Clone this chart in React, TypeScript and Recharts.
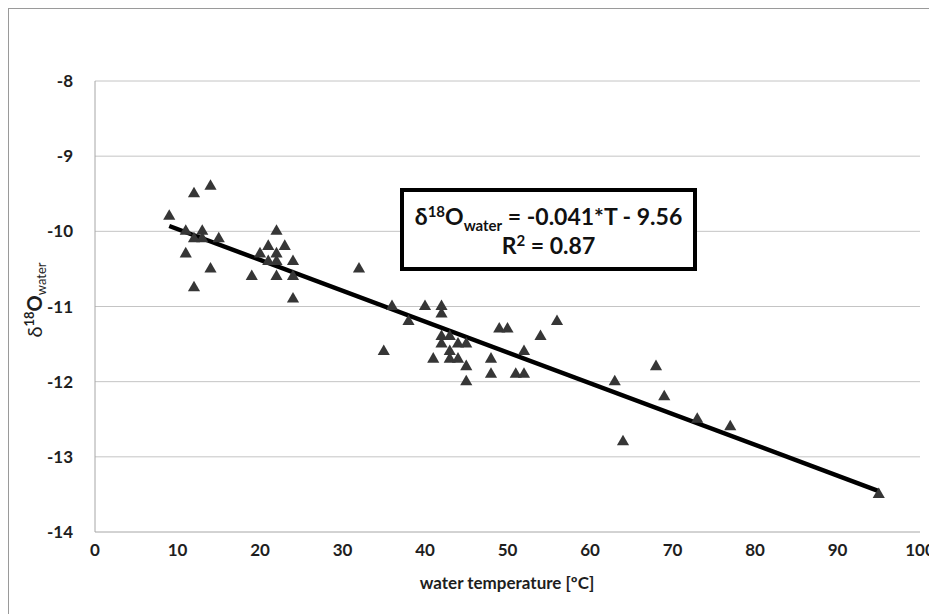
import React from "react";
import {
  ScatterChart,
  Scatter,
  XAxis,
  YAxis,
  ZAxis,
  CartesianGrid,
  ReferenceLine,
} from "recharts";

// measured water temperature [°C]
const temperature = [
  9, 12, 14, 11, 13, 12, 13, 15, 11, 14, 12,
  22, 21, 23, 20, 22, 21, 22, 24, 19, 22, 24, 24,
  32, 36, 40, 42, 42, 38, 35, 42, 43, 42, 44, 45, 43, 41, 43, 44, 45, 45,
  48, 48, 49, 50, 51, 52, 52, 54, 56,
  63, 68, 69, 64, 73, 77, 95,
];

// d18O of the water
const d18O = [
  -9.8, -9.5, -9.4, -10.0, -10.0, -10.1, -10.1, -10.1, -10.3, -10.5, -10.75,
  -10.0, -10.2, -10.2, -10.3, -10.3, -10.4, -10.4, -10.4, -10.6, -10.6, -10.6, -10.9,
  -10.5, -11.0, -11.0, -11.0, -11.1, -11.2, -11.6, -11.4, -11.4, -11.5, -11.5, -11.5, -11.6, -11.7, -11.7, -11.7, -11.8, -12.0,
  -11.7, -11.9, -11.3, -11.3, -11.9, -11.9, -11.6, -11.4, -11.2,
  -12.0, -11.8, -12.2, -12.8, -12.5, -12.6, -13.5,
];

const xTicks = [0, 10, 20, 30, 40, 50, 60, 70, 80, 90, 100];
const yTicks = [-14, -13, -12, -11, -10, -9, -8];

// regression from the equation box
const slope = -0.041;
const intercept = -9.56;
const trendX = [9, 95];

const points = temperature.map((t, i) => ({ t, o: d18O[i] }));
const trend = trendX.map((x) => ({ x, y: slope * x + intercept }));

const font = "Lato, 'Open Sans', sans-serif";
const tickStyle = { fontSize: 17, fontWeight: 700, fill: "#1e1e1e", fontFamily: font };
const supStyle = { fontSize: 15, verticalAlign: "8px", lineHeight: 0 };
const subStyle = { fontSize: 15, verticalAlign: "-6px", lineHeight: 0 };

export default function App() {
  return (
    <div style={{ position: "relative", width: 929, height: 606, fontFamily: font }}>
      <ScatterChart
        width={929}
        height={606}
        margin={{ top: 73, right: 17, bottom: 52, left: 0 }}
      >
        <CartesianGrid vertical={false} stroke="#c4c4c4" />
        <XAxis
          type="number"
          dataKey="t"
          domain={[0, 100]}
          ticks={xTicks}
          tickLine={false}
          axisLine={{ stroke: "#c4c4c4" }}
          tick={tickStyle}
          tickMargin={6}
          height={30}
        />
        <YAxis
          type="number"
          dataKey="o"
          domain={[-14, -8]}
          ticks={yTicks}
          tickLine={false}
          axisLine={{ stroke: "#a6a6a6" }}
          tick={tickStyle}
          tickMargin={16}
          width={87}
        />
        <ZAxis range={[85, 85]} />
        <Scatter
          data={points}
          shape="triangle"
          fill="#363636"
          isAnimationActive={false}
        />
        <ReferenceLine
          segment={trend}
          stroke="#000"
          strokeWidth={4.5}
          ifOverflow="visible"
        />
      </ScatterChart>

      <div
        style={{
          position: "absolute",
          left: 0,
          top: 0,
          width: 929,
          height: 606,
          borderLeft: "1px solid #9a9a9a",
          borderTop: "1px solid #9a9a9a",
          boxSizing: "border-box",
          pointerEvents: "none",
        }}
      />

      <div
        style={{
          position: "absolute",
          left: 392,
          top: 180,
          width: 297,
          height: 83,
          border: "4px solid #000",
          boxSizing: "border-box",
          background: "#fff",
          textAlign: "center",
          fontWeight: 700,
          fontSize: 23,
          lineHeight: "29px",
          color: "#111",
          paddingTop: 10,
        }}
      >
        <div>
          δ<sup style={supStyle}>18</sup>O
          <sub style={subStyle}>water</sub> = -0.041*T - 9.56
        </div>
        <div>
          R<sup style={supStyle}>2</sup> = 0.87
        </div>
      </div>

      <div
        style={{
          position: "absolute",
          left: 26,
          top: 292,
          transform: "translate(-50%, -50%) rotate(-90deg)",
          whiteSpace: "nowrap",
          fontSize: 20,
          fontWeight: 700,
          color: "#1e1e1e",
        }}
      >
        <span style={{ fontWeight: 400 }}>δ</span>
        <sup style={{ fontSize: 13, verticalAlign: "8px", lineHeight: 0 }}>18</sup>O
        <sub style={{ fontSize: 13, verticalAlign: "-4px", fontWeight: 400, lineHeight: 0 }}>
          water
        </sub>
      </div>

      <div
        style={{
          position: "absolute",
          left: 499,
          top: 574,
          transform: "translate(-50%, -50%)",
          whiteSpace: "nowrap",
          fontSize: 17,
          fontWeight: 700,
          color: "#1e1e1e",
        }}
      >
        water temperature [ºC]
      </div>
    </div>
  );
}
